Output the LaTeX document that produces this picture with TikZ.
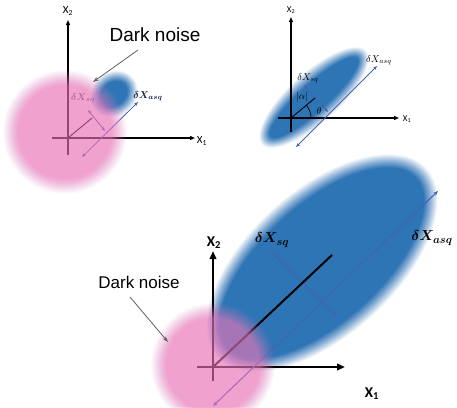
\documentclass[tikz,border=0pt]{standalone}
\usepackage{fontspec}
\usepackage{bm}
\newfontfamily\arialf{Liberation Sans}
\newfontfamily\calf{Carlito}
\usetikzlibrary{arrows.meta}
\definecolor{blobblue}{RGB}{46,117,182}
\definecolor{pinkc}{RGB}{240,120,190}
\definecolor{arrblue}{RGB}{68,100,175}
\definecolor{noisegray}{RGB}{95,95,95}
\definecolor{navy}{RGB}{25,35,75}
% #1 x, #2 y, #3 outer x radius, #4 outer y radius, #5 angle, #6 colour, #7 max opacity, #8 blur width
\newcommand\fuzzyblob[8]{%
  \begin{scope}[shift={(#1,#2)}, rotate=#5]
    \foreach \k in {1,...,25}{%
      \pgfmathsetmacro\fzop{(#7/25)/(1-(\k-1)*#7/25)}%
      \pgfmathsetmacro\fzrr{(\k-1)*#8/25}%
      \fill[#6, opacity=\fzop] (0,0) ellipse [x radius={#3-\fzrr}, y radius={#4-\fzrr}];
    }
  \end{scope}}
\begin{document}
\begin{tikzpicture}[x=1pt,y=-1pt,
  axisS/.style={line width=1.2pt, -{Triangle[length=5pt,width=4pt]}},
  axisL/.style={line width=2.2pt, -{Triangle[length=8pt,width=6.5pt]}},
  dblS/.style={arrblue, line width=0.8pt, {Stealth[length=4pt,width=3pt]}-{Stealth[length=4pt,width=3pt]}},
  dblL/.style={arrblue, line width=1.1pt, {Stealth[length=5pt,width=4pt]}-{Stealth[length=5pt,width=4pt]}},
  noisearrow/.style={noisegray, line width=0.8pt, -{Stealth[length=6pt,width=4pt]}},
  lblS/.style={font=\calf\fontsize{11}{12}\selectfont, inner sep=0pt},
  lblT/.style={font=\calf\fontsize{9}{10}\selectfont, inner sep=0pt},
  lblL/.style={font=\calf\bfseries\fontsize{15}{16}\selectfont, inner sep=0pt},
  noisetxt/.style={font=\arialf\fontsize{19}{21}\selectfont, inner sep=0pt},
  noisetxtL/.style={font=\arialf\fontsize{17}{19}\selectfont, inner sep=0pt},
  mathS/.style={inner sep=0pt, font=\fontsize{10}{11}\selectfont},
  mathL/.style={inner sep=0pt, font=\fontsize{15.5}{17}\selectfont}
]
\useasboundingbox (0,0) rectangle (457,407);
\fill[white] (0,0) rectangle (457,407);

% ================= top-left panel =================
\fuzzyblob{114}{94}{25}{22}{40}{blobblue}{1}{11}
\coordinate (tlO) at (68,138);
\coordinate (tlYb) at (68,155); \coordinate (tlYt) at (68,20);
\coordinate (tlXl) at (52,138); \coordinate (tlXr) at (195,138);
\draw[axisS] (tlYb) -- (tlYt);
\draw[axisS] (tlXl) -- (tlXr);
\node[lblS] (tlX2) at (68,11) {X\textsubscript{2}};
\node[lblS] (tlX1) at (202,141) {X\textsubscript{1}};
\coordinate (tlA1) at (82,157); \coordinate (tlA2) at (138,102);
\draw[dblS] (tlA1) -- (tlA2);
\coordinate (tlS1) at (88,110); \coordinate (tlS2) at (105,131);
\draw[dblS] (tlS1) -- (tlS2);
\coordinate (tlL) at (92,118);
\draw[line width=1pt] (tlO) -- (tlL);
\node[mathS, text=noisegray] (tlsq) at (83,98) {$\bm{\delta X_{sq}}$};
\node[mathS, text=navy] (tlasq) at (148,96) {$\bm{\delta X_{asq}}$};
\fuzzyblob{65}{132}{62}{62}{0}{pinkc}{0.64}{16}
\node[noisetxt] (tlnoise) at (155,35) {Dark noise};
\coordinate (tlN1) at (138,50); \coordinate (tlN2) at (93,82);
\draw[noisearrow] (tlN1) -- (tlN2);

% ================= top-right panel =================
\fuzzyblob{314}{97.5}{70}{25}{42}{blobblue}{1}{12}
\coordinate (trO) at (291,118);
\coordinate (trYb) at (291,132); \coordinate (trYt) at (291,17);
\coordinate (trXl) at (278,118); \coordinate (trXr) at (399,118);
\draw[axisS] (trYb) -- (trYt);
\draw[axisS] (trXl) -- (trXr);
\node[lblT] (trX2) at (291,10) {X\textsubscript{2}};
\node[lblT] (trX1) at (407,119) {X\textsubscript{1}};
\coordinate (trA1) at (296,147); \coordinate (trA2) at (377,66);
\draw[dblS] (trA1) -- (trA2);
\coordinate (trS1) at (304,85); \coordinate (trS2) at (328,112);
\draw[dblS] (trS1) -- (trS2);
\coordinate (trL) at (315,98);
\draw[line width=0.9pt] (trO) -- (trL);
\coordinate (trArc) at (311,118);
\draw[line width=0.7pt] (trArc) arc[start angle=0, end angle=-40, radius=20];
\node[mathS] (trsq) at (308,78) {$\delta X_{sq}$};
\node[mathS] (trasq) at (379,60) {$\delta X_{asq}$};
\node[mathS] (tralpha) at (302,97) {$|\alpha|$};
\node[mathS] (trtheta) at (319,111) {$\theta$};

% ================= bottom panel =================
\fuzzyblob{322}{263}{141}{73}{42}{blobblue}{1}{15}
\coordinate (bO) at (213,367);
\coordinate (bYb) at (213,381); \coordinate (bYt) at (213,251);
\coordinate (bXl) at (197,367); \coordinate (bXr) at (345,367);
\draw[axisL] (bYb) -- (bYt);
\draw[axisL] (bXl) -- (bXr);
\node[lblL] (bX2) at (214,243) {X\textsubscript{2}};
\node[lblL] (bX1) at (372,394) {X\textsubscript{1}};
\coordinate (bA1) at (213,406); \coordinate (bA2) at (438,191);
\draw[dblL] (bA1) -- (bA2);
\coordinate (bS1) at (273,253); \coordinate (bS2) at (337,317);
\draw[dblL] (bS1) -- (bS2);
\coordinate (bL) at (332,255);
\draw[line width=2pt] (bO) -- (bL);
\node[mathL] (bsq) at (272,240) {$\bm{\delta X_{sq}}$};
\node[mathL] (basq) at (432,238) {$\bm{\delta X_{asq}}$};
\fuzzyblob{213}{365}{62}{62}{0}{pinkc}{0.64}{16}
\node[noisetxtL] (bnoise) at (139,282) {Dark noise};
\coordinate (bN1) at (130,297); \coordinate (bN2) at (168,342);
\draw[noisearrow] (bN1) -- (bN2);
\end{tikzpicture}
\end{document}
